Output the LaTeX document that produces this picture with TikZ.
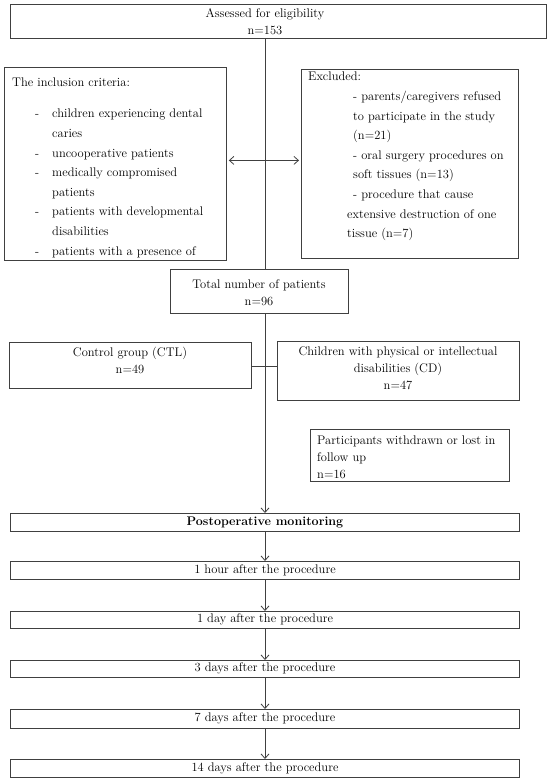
\documentclass[tikz,border=0pt]{standalone}
\usetikzlibrary{arrows.meta}
\begin{document}
\begin{tikzpicture}[x=1pt,y=-1pt,
  box/.style={draw=black!75, line width=0.8pt, inner sep=0pt, anchor=north west},
  txt/.style={inner sep=0pt, font=\fontsize{12.5}{17}\selectfont, text=black},
  listtxt/.style={inner sep=0pt, font=\fontsize{12.5}{19.6}\selectfont, text=black, align=left},
  conn/.style={draw=black!75, line width=0.8pt},
  arr/.style={conn, -{Straight Barb[length=4.5pt,width=8pt]}},
  darr/.style={conn, {Straight Barb[length=4.5pt,width=8pt]}-{Straight Barb[length=4.5pt,width=8pt]}}
]
\useasboundingbox (0,0) rectangle (550,781);
\fill[white] (0,0) rectangle (550,781);

% boxes
\node[box, minimum width=536pt, minimum height=34pt] (assess) at (10,4) {};
\node[box, minimum width=222pt, minimum height=193pt] (incl) at (4,67) {};
\node[box, minimum width=217pt, minimum height=189pt] (excl) at (301,69) {};
\node[box, minimum width=178pt, minimum height=44pt] (total) at (170,269) {};
\node[box, minimum width=242pt, minimum height=46pt] (ctl) at (9,342) {};
\node[box, minimum width=242pt, minimum height=59pt] (cd) at (277,341) {};
\node[box, minimum width=199pt, minimum height=52pt] (lost) at (310,429) {};
\node[box, minimum width=509pt, minimum height=18pt] (post) at (10,513) {};
\node[box, minimum width=509pt, minimum height=18pt] (h1) at (10,561) {};
\node[box, minimum width=509pt, minimum height=17pt] (d1) at (10,611) {};
\node[box, minimum width=509pt, minimum height=17pt] (d3) at (10,660) {};
\node[box, minimum width=509pt, minimum height=19pt] (d7) at (10,709) {};
\node[box, minimum width=509pt, minimum height=18pt] (d14) at (10,759) {};

% texts
\node[txt, align=center] (assessT) at (265,21.5) {Assessed for eligibility\\n=153};
\node[listtxt, anchor=north west] (inclT) at (12,73) {%
\begin{tabular}{@{}p{40pt}@{}l@{}}
\multicolumn{2}{@{}l@{}}{The inclusion criteria:}\\[11.4pt]
\hspace*{23pt}- & children experiencing dental\\
 & caries\\
\hspace*{23pt}- & uncooperative patients\\
\hspace*{23pt}- & medically compromised\\
 & patients\\
\hspace*{23pt}- & patients with developmental\\
 & disabilities\\
\hspace*{23pt}- & patients with a presence of
\end{tabular}};
\node[listtxt, anchor=north west] (exclT) at (308,72) {%
Excluded:\\
\hspace*{45pt}\makebox[148pt][s]{\mbox{- parents/caregivers} refused}\\
\hspace*{45pt}to participate in the study\\
\hspace*{45pt}(n=21)\\
\hspace*{45pt}- oral surgery procedures on\\
\hspace*{45pt}soft tissues (n=13)\\
\hspace*{45pt}- procedure that cause\\
\hspace*{39pt}extensive destruction of one\\
\hspace*{39pt}tissue (n=7)};
\node[txt, align=center] (totalT) at (259,293) {Total number of patients\\n=96};
\node[txt, align=center] (ctlT) at (130,360) {Control group (CTL)\\n=49};
\node[txt, align=center] (cdT) at (398,368.5) {Children with physical or intellectual\\disabilities (CD)\\n=47};
\node[txt, align=left, anchor=west] (lostT) at (317,457) {Participants withdrawn or lost in\\follow up\\n=16};
\node[txt, font=\fontsize{12.5}{17}\selectfont\bfseries] (postT) at (265,522) {Postoperative monitoring};
\node[txt] (h1T) at (265,570) {1 hour after the procedure};
\node[txt] (d1T) at (265,619.5) {1 day after the procedure};
\node[txt] (d3T) at (265,668.5) {3 days after the procedure};
\node[txt] (d7T) at (265,718.5) {7 days after the procedure};
\node[txt] (d14T) at (265,768) {14 days after the procedure};

% connectors
\coordinate (spine) at (265,0);
\draw[conn] (assess.south -| spine) -- (total.north -| spine);
\draw[arr] (total.south -| spine) -- (post.north -| spine);
\draw[darr, shorten <=2pt, shorten >=2pt] ([yshift=3.5pt]incl.east) -- ([yshift=3.5pt]incl.east -| excl.west);
\draw[conn] ([yshift=-1pt]ctl.east) -- ([yshift=-1pt]ctl.east -| cd.west);
\draw[arr] (post.south -| spine) -- (h1.north -| spine);
\draw[arr] (h1.south -| spine) -- (d1.north -| spine);
\draw[arr] (d1.south -| spine) -- (d3.north -| spine);
\draw[arr] (d3.south -| spine) -- (d7.north -| spine);
\draw[arr] (d7.south -| spine) -- (d14.north -| spine);
\end{tikzpicture}
\end{document}
